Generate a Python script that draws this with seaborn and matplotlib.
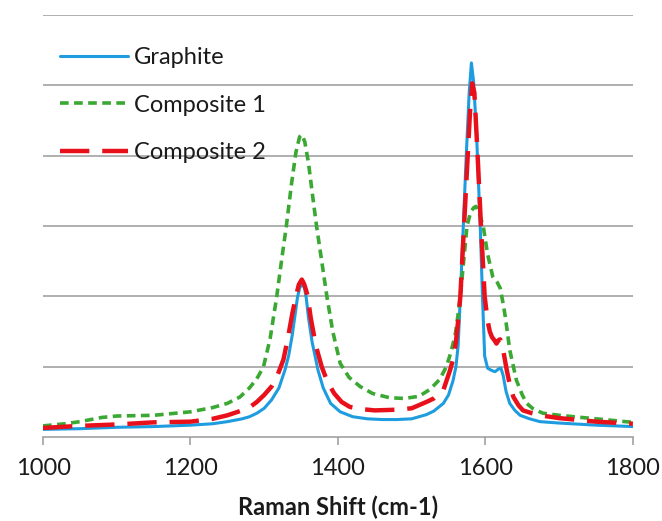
import numpy as np
import pandas as pd
import matplotlib
matplotlib.use("Agg")
import matplotlib.pyplot as plt
import seaborn as sns

# values (y in gridline units, 0..6)
graphite_x = [1000, 1050, 1100, 1150, 1200, 1230, 1250, 1270, 1280, 1290, 1300, 1310,
              1320, 1328, 1333, 1338, 1342, 1345, 1348, 1352, 1355, 1357, 1360, 1365,
              1373, 1380, 1390, 1403, 1420, 1440, 1460, 1480, 1500, 1520, 1530, 1543,
              1550, 1556, 1560, 1563, 1566, 1570, 1574, 1578, 1581, 1584, 1588, 1593,
              1596, 1599, 1603, 1608, 1613, 1618, 1621, 1624, 1628, 1633, 1640, 1647,
              1660, 1674, 1700, 1750, 1800]
graphite_y = [0.11, 0.12, 0.14, 0.15, 0.17, 0.19, 0.22, 0.26, 0.29, 0.34, 0.41, 0.53,
              0.70, 0.95, 1.15, 1.45, 1.75, 1.98, 2.12, 2.19, 2.10, 1.98, 1.70, 1.35,
              0.95, 0.70, 0.48, 0.36, 0.29, 0.26, 0.25, 0.25, 0.26, 0.32, 0.37, 0.48,
              0.60, 0.80, 1.00, 1.30, 2.00, 3.00, 4.00, 4.90, 5.32, 5.05, 4.30, 3.00,
              2.00, 1.15, 0.98, 0.95, 0.93, 0.97, 0.98, 0.88, 0.65, 0.48, 0.38, 0.31,
              0.26, 0.22, 0.20, 0.17, 0.15]

comp1_x = [1000, 1030, 1050, 1080, 1100, 1150, 1200, 1230, 1250, 1267, 1280, 1290,
           1299, 1308, 1317, 1324, 1330, 1337, 1343, 1348, 1351, 1355, 1360, 1366,
           1371, 1378, 1385, 1393, 1403, 1415, 1430, 1447, 1470, 1490, 1510, 1525,
           1538, 1547, 1553, 1559, 1563, 1566, 1570, 1575, 1580, 1584, 1587, 1591,
           1597, 1603, 1610, 1616, 1620, 1624, 1627, 1633, 1642, 1650, 1656, 1665,
           1678, 1700, 1750, 1800]
comp1_y = [0.16, 0.19, 0.22, 0.28, 0.30, 0.31, 0.36, 0.42, 0.48, 0.57, 0.70, 0.83,
           1.00, 1.40, 2.00, 2.55, 3.00, 3.60, 4.05, 4.27, 4.30, 4.20, 3.90, 3.40,
           3.00, 2.50, 2.00, 1.50, 1.05, 0.85, 0.72, 0.62, 0.56, 0.55, 0.58, 0.68,
           0.82, 1.00, 1.20, 1.45, 1.75, 2.00, 2.45, 3.00, 3.20, 3.26, 3.28, 3.20,
           3.00, 2.60, 2.28, 2.20, 2.12, 1.90, 1.71, 1.24, 0.81, 0.60, 0.48, 0.40,
           0.34, 0.31, 0.26, 0.21]

comp2_x = [1000, 1050, 1100, 1150, 1200, 1230, 1250, 1270, 1281, 1290, 1300, 1310,
           1318, 1326, 1332, 1338, 1343, 1347, 1351, 1354, 1357, 1359, 1363, 1370,
           1378, 1386, 1395, 1405, 1416, 1430, 1450, 1480, 1500, 1520, 1530, 1543,
           1552, 1556, 1560, 1563, 1566, 1571, 1575, 1579, 1582, 1585, 1589, 1594,
           1599, 1603, 1606, 1609, 1612, 1615, 1618, 1620, 1624, 1629, 1634, 1638,
           1645, 1651, 1663, 1674, 1700, 1750, 1800]
comp2_y = [0.13, 0.16, 0.18, 0.21, 0.22, 0.26, 0.31, 0.38, 0.43, 0.50, 0.60, 0.72,
           0.88, 1.10, 1.40, 1.75, 2.00, 2.17, 2.24, 2.18, 2.08, 2.00, 1.70, 1.30,
           1.00, 0.78, 0.62, 0.50, 0.43, 0.40, 0.38, 0.39, 0.41, 0.50, 0.55, 0.67,
           0.95, 1.10, 1.35, 1.65, 2.00, 3.00, 3.80, 4.60, 5.03, 4.90, 4.10, 3.00,
           2.00, 1.65, 1.50, 1.42, 1.38, 1.33, 1.38, 1.39, 1.24, 0.95, 0.70, 0.57,
           0.45, 0.38, 0.34, 0.31, 0.27, 0.22, 0.19]

labels = ["Graphite", "Composite 1", "Composite 2"]
colors = ["#1d9ce0", "#3aa832", "#e8101a"]

sns.set_style("white")
plt.rcParams['font.family'] = ['Lato', 'DejaVu Sans']

fig = plt.figure(figsize=(6.62, 5.21), dpi=100)
ax = fig.add_axes([0.065, 0.161, 0.891, 0.81])

sns.lineplot(x=graphite_x, y=graphite_y, ax=ax, color=colors[0], linewidth=2.2,
             label=labels[0], estimator=None)
sns.lineplot(x=comp1_x, y=comp1_y, ax=ax, color=colors[1], linewidth=2.6,
             linestyle=(0, (2.4, 1.5)), label=labels[1], estimator=None)
sns.lineplot(x=comp2_x, y=comp2_y, ax=ax, color=colors[2], linewidth=3.2,
             linestyle=(0, (6.6, 2.9)), label=labels[2], estimator=None)

ax.set_xlim(1000, 1800)
ax.set_ylim(0, 6)
ax.set_xticks([1000, 1200, 1400, 1600, 1800])
ax.set_yticks([1, 2, 3, 4, 5, 6])
ax.set_yticklabels([])
ax.tick_params(axis="y", length=0)
ax.yaxis.grid(True, color="#9a9a9a", linewidth=1.1)
ax.xaxis.grid(False)
for s in ["left", "right", "top"]:
    ax.spines[s].set_visible(False)
ax.spines["bottom"].set_color("#9a9a9a")
ax.spines["bottom"].set_linewidth(1.1)
ax.tick_params(axis="x", direction="out", length=6, width=1.1, color="#9a9a9a",
               labelsize=17, labelcolor="#1a1a1a", pad=9, bottom=True)

ax.set_xlabel("Raman Shift (cm-1)", fontsize=17, fontweight="bold", color="#1a1a1a",
              labelpad=12)
ax.set_ylabel("")

leg = ax.legend(loc="upper left", bbox_to_anchor=(0.0, 0.963), frameon=False,
                fontsize=17, handlelength=2.9, handletextpad=0.25, labelspacing=1.12,
                borderaxespad=0.3)
for t in leg.get_texts():
    t.set_color("#1a1a1a")

fig.savefig("out.png", dpi=100)
